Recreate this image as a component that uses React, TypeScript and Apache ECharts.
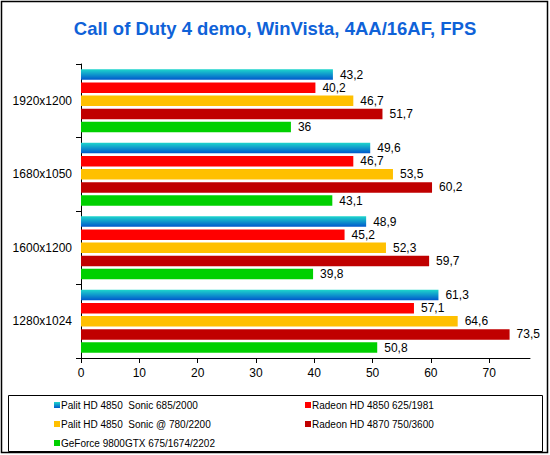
import React, { useEffect, useRef } from "react";
import * as echarts from "echarts";

const titleText = "Call of Duty 4 demo, WinVista, 4AA/16AF, FPS";
const categories = ["1920x1200", "1680x1050", "1600x1200", "1280x1024"];
const seriesNames = [
  "Palit HD 4850  Sonic 685/2000",
  "Radeon HD 4850 625/1981",
  "Palit HD 4850  Sonic @ 780/2200",
  "Radeon HD 4870 750/3600",
  "GeForce 9800GTX 675/1674/2202",
];
const palit685 = [43.2, 49.6, 48.9, 61.3];
const radeon4850 = [40.2, 46.7, 45.2, 57.1];
const palit780 = [46.7, 53.5, 52.3, 64.6];
const radeon4870 = [51.7, 60.2, 59.7, 73.5];
const geforce = [36, 43.1, 39.8, 50.8];
const xTicks = [0, 10, 20, 30, 40, 50, 60, 70];

const FONT = "'Liberation Sans', Arial, sans-serif";

export default function App() {
  const ref = useRef<HTMLDivElement>(null);
  useEffect(() => {
    document.body.style.margin = "0";
    const chart = echarts.init(ref.current!, null, { renderer: "svg" });
    const blueGrad = new echarts.graphic.LinearGradient(0, 0, 0, 1, [
      { offset: 0, color: "#1ED6CC" },
      { offset: 1, color: "#0058CC" },
    ]);
    const colors: any[] = [blueGrad, "#FF0000", "#FFC000", "#C00000", "#00D000"];
    const values = [palit685, radeon4850, palit780, radeon4870, geforce];
    const series = values.map((vals, i) => ({
      name: seriesNames[i],
      type: "bar",
      data: vals,
      barWidth: 10.5,
      barGap: "25%",
      itemStyle: { color: colors[i] },
      label: {
        show: true,
        position: "right",
        distance: 7,
        color: "#000",
        fontFamily: FONT,
        fontSize: 12,
        formatter: (p: any) => String(p.value).replace(".", ","),
      },
    }));
    const legendCommon = {
      orient: "vertical",
      icon: "rect",
      itemWidth: 6,
      itemHeight: 6,
      itemGap: 7,
      padding: 0,
      height: 54,
      selectedMode: false,
      textStyle: { fontFamily: FONT, fontSize: 10, color: "#000", lineHeight: 12, padding: [0, 0, 0, -4] },
    };
    chart.setOption({
      animation: false,
      backgroundColor: "#fff",
      title: {
        text: titleText,
        left: "center",
        top: 19,
        padding: 0,
        textStyle: { fontFamily: FONT, fontSize: 18.5, fontWeight: "bold", color: "#0F62D8" },
      },
      grid: { left: 81, right: 20, top: 64, bottom: 97, containLabel: false },
      xAxis: {
        type: "value",
        min: 0,
        max: 77,
        interval: 10,
        splitLine: { show: false },
        axisLine: { show: true, lineStyle: { color: "#000", width: 1 } },
        axisTick: { show: true, length: 5, lineStyle: { color: "#000" }, customValues: xTicks },
        axisLabel: { color: "#000", fontFamily: FONT, fontSize: 12, margin: 9, customValues: xTicks },
      },
      yAxis: {
        type: "category",
        inverse: true,
        data: categories,
        axisLine: { show: true, lineStyle: { color: "#000", width: 1 } },
        axisTick: { show: true, length: 5, lineStyle: { color: "#000" } },
        axisLabel: { color: "#000", fontFamily: FONT, fontSize: 12, margin: 9 },
      },
      legend: [
        { ...legendCommon, left: 54, top: 399, data: [seriesNames[0], seriesNames[2], seriesNames[4]] },
        { ...legendCommon, left: 305, top: 399, data: [seriesNames[1], seriesNames[3]] },
      ],
      graphic: [
        {
          type: "rect",
          z: -1,
          shape: { x: 1.5, y: 1.5, width: 546, height: 451 },
          style: { fill: "none", stroke: "#000", lineWidth: 1.5 },
        },
        {
          type: "rect",
          z: -1,
          shape: { x: 8.5, y: 395.5, width: 534, height: 56 },
          style: { fill: "none", stroke: "#000", lineWidth: 1 },
        },
      ],
      series,
    });
    return () => chart.dispose();
  }, []);
  return <div ref={ref} style={{ width: 550, height: 455 }} />;
}
